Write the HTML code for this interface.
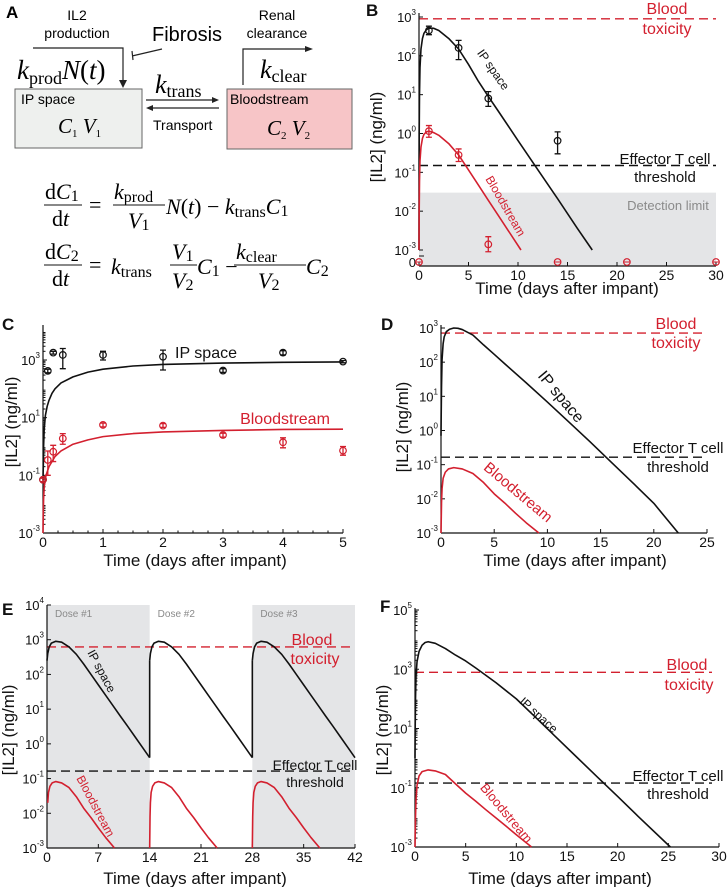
<!DOCTYPE html>
<html><head><meta charset="utf-8"><style>
body{margin:0;background:#fff;}
svg{display:block;font-family:"Liberation Sans",sans-serif;}
.serif{font-family:"Liberation Serif",serif;}
</style></head><body>
<svg id="fig" width="727" height="887" viewBox="0 0 727 887" xmlns="http://www.w3.org/2000/svg">
<!-- Panel A -->
<g>
<text x="6" y="18" font-size="17" font-weight="bold">A</text>
<text x="77" y="20" font-size="14" text-anchor="middle">IL2</text>
<text x="77" y="38" font-size="14" text-anchor="middle">production</text>
<path d="M33,48 H123 V82" fill="none" stroke="#222" stroke-width="1.2"/>
<path d="M119,80 L123,88 L127,80 Z" fill="#222"/>
<text x="152" y="41" font-size="20">Fibrosis</text>
<path d="M162,49 L132,56 M132,51 L133,60" fill="none" stroke="#222" stroke-width="1.2"/>
<text x="17" y="79" class="serif" font-size="27"><tspan font-style="italic">k</tspan><tspan font-size="18" dy="5">prod</tspan><tspan font-style="italic" dy="-5">N</tspan>(<tspan font-style="italic">t</tspan>)</text>
<rect x="15" y="89" width="127" height="59" fill="#eef0ee" stroke="#666" stroke-width="1"/>
<text x="21" y="104" font-size="14">IP space</text>
<text x="58" y="133" class="serif" font-size="21" font-style="italic">C<tspan font-size="11" dy="4" font-style="normal">1</tspan><tspan dy="-4"> V</tspan><tspan font-size="11" dy="4" font-style="normal">1</tspan></text>
<text x="155" y="93" class="serif" font-size="26"><tspan font-style="italic">k</tspan><tspan font-size="18" dy="4">trans</tspan></text>
<path d="M146,100 H214" stroke="#222" stroke-width="1.2"/>
<path d="M212,97 L219,100 L212,103 Z" fill="#222"/>
<path d="M150,108 H219" stroke="#222" stroke-width="1.2"/>
<path d="M153,105 L146,108 L153,111 Z" fill="#222"/>
<text x="153" y="130" font-size="14">Transport</text>
<rect x="227" y="89" width="125" height="60" fill="#f7c5c7" stroke="#666" stroke-width="1"/>
<text x="230" y="104" font-size="14">Bloodstream</text>
<text x="267" y="135" class="serif" font-size="21" font-style="italic">C<tspan font-size="11" dy="4" font-style="normal">2</tspan><tspan dy="-4"> V</tspan><tspan font-size="11" dy="4" font-style="normal">2</tspan></text>
<text x="277" y="20" font-size="14" text-anchor="middle">Renal</text>
<text x="277" y="38" font-size="14" text-anchor="middle">clearance</text>
<path d="M243,85 V49 H307" fill="none" stroke="#222" stroke-width="1.2"/>
<path d="M305,46 L313,49 L305,52 Z" fill="#222"/>
<text x="260" y="78" class="serif" font-size="26"><tspan font-style="italic">k</tspan><tspan font-size="18" dy="4">clear</tspan></text>
<g class="serif" font-size="22">
<text x="45" y="199">d<tspan font-style="italic">C</tspan><tspan font-size="16" dy="2">1</tspan></text>
<line x1="44" y1="205" x2="82" y2="205" stroke="#111" stroke-width="1"/>
<text x="52" y="226">d<tspan font-style="italic">t</tspan></text>
<text x="89" y="212">=</text>
<text x="114" y="199"><tspan font-style="italic">k</tspan><tspan font-size="16" dy="3">prod</tspan></text>
<line x1="113" y1="205" x2="165" y2="205" stroke="#111" stroke-width="1"/>
<text x="128" y="228"><tspan font-style="italic">V</tspan><tspan font-size="16" dy="2">1</tspan></text>
<text x="166" y="214"><tspan font-style="italic">N</tspan>(<tspan font-style="italic">t</tspan>) − <tspan font-style="italic">k</tspan><tspan font-size="16" dy="3">trans</tspan><tspan font-style="italic" dy="-3">C</tspan><tspan font-size="16" dy="2">1</tspan></text>
</g>
<g class="serif" font-size="22">
<text x="45" y="259">d<tspan font-style="italic">C</tspan><tspan font-size="16" dy="2">2</tspan></text>
<line x1="44" y1="265" x2="82" y2="265" stroke="#111" stroke-width="1"/>
<text x="52" y="286">d<tspan font-style="italic">t</tspan></text>
<text x="89" y="272">=</text>
<text x="111" y="274"><tspan font-style="italic">k</tspan><tspan font-size="16" dy="3">trans</tspan></text>
<text x="172" y="259"><tspan font-style="italic">V</tspan><tspan font-size="16" dy="2">1</tspan></text>
<line x1="170" y1="265" x2="197" y2="265" stroke="#111" stroke-width="1"/>
<text x="172" y="288"><tspan font-style="italic">V</tspan><tspan font-size="16" dy="2">2</tspan></text>
<text x="197" y="274"><tspan font-style="italic">C</tspan><tspan font-size="16" dy="2">1</tspan><tspan dy="-2"> − </tspan></text>
<text x="236" y="259"><tspan font-style="italic">k</tspan><tspan font-size="16" dy="3">clear</tspan></text>
<line x1="234" y1="265" x2="306" y2="265" stroke="#111" stroke-width="1"/>
<text x="258" y="288"><tspan font-style="italic">V</tspan><tspan font-size="16" dy="2">2</tspan></text>
<text x="306" y="274"><tspan font-style="italic">C</tspan><tspan font-size="16" dy="2">2</tspan></text>
</g>
</g>
</svg>
<script>
// ===== Data =====
// Panel B
const bIPT=[0,0.02,0.05,0.1,0.2,0.35,0.5,0.75,1,1.5,2,3,4,5,6,7,8,10,12,14,16,17.5];
const bIPV=[0.001,1,10,50,150,280,380,470,520,510,450,280,150,60,22,9,3.8,0.66,0.117,0.021,0.0036,0.001];
const bBlT=[0,0.02,0.05,0.1,0.2,0.35,0.5,0.75,1,1.5,2,3,4,5,6,7,8,9,10.3];
const bBlV=[0.001,0.01,0.06,0.2,0.45,0.75,0.95,1.1,1.15,1.05,0.9,0.55,0.28,0.115,0.047,0.019,0.0078,0.0032,0.001];
const bDatIPT=[1,4,7,14];
const bDatIPV=[450,160,8,0.65];
const bDatIPLo=[350,80,5,0.3];
const bDatIPHi=[580,250,12,1.1];
const bDatBlT=[1,4,7];
const bDatBlV=[1.15,0.28,0.0014];
const bDatBlLo=[0.8,0.19,0.0009];
const bDatBlHi=[1.6,0.4,0.0022];
const bZeroT=[0,14,21,30];
const bThresh=[900,0.15,0.03]; // toxicity, effector, detection limit
const bXTicks=[0,5,10,15,20,25,30];
const bYExps=[3,2,1,0,-1,-2,-3];
// Panel C
const cIPT=[0,0.005,0.01,0.02,0.04,0.07,0.1,0.15,0.2,0.3,0.5,0.75,1,1.5,2,3,4,5];
const cIPV=[0.07,0.2,1,4,12,25,40,70,100,160,260,380,480,620,700,780,830,860];
const cBlT=[0,0.005,0.01,0.02,0.05,0.1,0.2,0.3,0.5,0.75,1,1.5,2,3,4,5];
const cBlV=[0.001,0.005,0.015,0.04,0.1,0.2,0.45,0.7,1.2,1.7,2.2,2.8,3.2,3.6,3.9,4.0];
const cDatIPT=[0,0.08,0.17,0.33,1,2,3,4,5];
const cDatIPV=[0.07,420,1800,1500,1500,1300,430,1800,880];
const cDatIPLo=[0.06,360,1600,500,1000,450,370,1500,800];
const cDatIPHi=[0.08,480,2000,2500,2000,2200,500,2100,960];
const cDatBlT=[0,0.08,0.17,0.33,1,2,3,4,5];
const cDatBlV=[0.07,0.34,0.66,1.9,5.6,5.3,2.5,1.4,0.72];
const cDatBlLo=[0.06,0.1,0.3,1.2,4.8,4.6,2.1,0.9,0.5];
const cDatBlHi=[0.08,0.7,1.1,2.8,6.5,6.2,2.9,2,1.0];
const cXTicks=[0,1,2,3,4,5];
const cYExps=[3,1,-1,-3];
// Panel D
const dIPT=[0,0.02,0.05,0.1,0.2,0.3,0.5,0.8,1.2,1.6,2,3,4,5,6,8,10,12,14,16,18,20,22.3];
const dIPV=[0.7,3,20,120,350,550,780,920,1000,980,900,620,320,170,89,25,6.8,1.8,0.47,0.118,0.03,0.0074,0.001];
const dBlT=[0,0.05,0.1,0.2,0.4,0.7,1.2,2,3,4,5,6,7,8,9.2];
const dBlV=[0.001,0.008,0.02,0.04,0.06,0.075,0.082,0.075,0.055,0.03,0.014,0.0075,0.0038,0.002,0.001];
const dThresh=[710,0.166];
const dXTicks=[0,5,10,15,20,25];
const dYExps=[3,2,1,0,-1,-2,-3];
// Panel E
const eDoseStarts=[0,14,28];
const eIPT=[0,0.1,0.3,0.6,1.2,2,3,4,5,6,7,8,9,10,11,12,13,14];
const eIPV=[250,400,620,800,900,850,620,380,200,100,50,25,12.6,6.3,3.2,1.6,0.8,0.4];
const eBlT=[0,0.05,0.1,0.2,0.4,0.7,1.2,2,3,4,5,6,7,8,9.2];
const eBlV=[0.001,0.008,0.02,0.04,0.06,0.075,0.082,0.075,0.055,0.03,0.014,0.0075,0.0038,0.002,0.001];
const eThresh=[620,0.165];
const eXTicks=[0,7,14,21,28,35,42];
const eYExps=[4,3,2,1,0,-1,-2,-3];
const eDoseLabels=["Dose #1","Dose #2","Dose #3"];
// Panel F
const fIPT=[0,0.02,0.05,0.1,0.2,0.4,0.7,1,1.3,2,3,4,5,6,8,10,12,14,16,18,20,22,25.2];
const fIPV=[1,10,100,600,1800,4000,6500,8000,8500,7500,5000,3000,1900,1100,350,100,22,4.8,1.05,0.23,0.051,0.011,0.001];
const fBlT=[0,0.05,0.1,0.2,0.4,0.7,1.3,2,3,4,5,6,7,8,9,10,11.5];
const fBlV=[0.001,0.01,0.04,0.12,0.25,0.35,0.4,0.37,0.28,0.135,0.066,0.035,0.018,0.0095,0.005,0.0026,0.001];
const fThresh=[790,0.144];
const fXTicks=[0,5,10,15,20,25,30];
const fYExps=[5,3,1,-1,-3];

// ===== Drawing =====
const NS="http://www.w3.org/2000/svg";
const fig=document.getElementById('fig');
const RED="#d3202f", BLK="#111";
function mk(tag,parent){const e=document.createElementNS(NS,tag);(parent||fig).appendChild(e);return e;}
function axes(x0,x1,tmax,yT,yB,eT,eB){
  const dec=(yB-yT)/(eT-eB);
  return {x:t=>x0+(x1-x0)*t/tmax, y:v=>yT+(eT-Math.log10(v))*dec, dec:dec};
}
function line(g,ax,ts,vs,color,name,off){
  off=off||0;
  const p=mk('path',g);
  
  
  let d='';
  for(let i=0;i<ts.length;i++){d+=(i?'L':'M')+ax.x(ts[i]+off).toFixed(2)+','+ax.y(vs[i]).toFixed(2);}
  p.setAttribute('d',d);p.setAttribute('fill','none');p.setAttribute('stroke',color);p.setAttribute('stroke-width','1.6');
  p.setAttribute('stroke-linejoin','round');
  return p;
}
function hdash(g,ax,x0,x1,v,color,name){
  const l=mk('line',g);
  
  
  const y=ax.y(v);
  l.setAttribute('x1',x0);l.setAttribute('x2',x1);l.setAttribute('y1',y);l.setAttribute('y2',y);
  l.setAttribute('stroke',color);l.setAttribute('stroke-width','1.4');l.setAttribute('stroke-dasharray','9,5');
}
function txt(g,x,y,s,size,color,anchor,rot,name){
  const t=mk('text',g);
  
  
  t.setAttribute('x',x);t.setAttribute('y',y);t.setAttribute('font-size',size);t.setAttribute('fill',color||BLK);
  t.setAttribute('text-anchor',anchor||'start');
  if(rot)t.setAttribute('transform','rotate('+rot+' '+x+' '+y+')');
  t.textContent=s;return t;
}
function points(g,ax,ts,vs,lo,hi,color,name){
  for(let i=0;i<ts.length;i++){
    const x=ax.x(ts[i]);
    if(lo){
      const e=mk('path',g);
      
      
      const y1=ax.y(lo[i]),y2=ax.y(hi[i]);
      e.setAttribute('d','M'+x+','+y1+'V'+y2+'M'+(x-3)+','+y1+'H'+(x+3)+'M'+(x-3)+','+y2+'H'+(x+3));
      e.setAttribute('stroke',color);e.setAttribute('stroke-width','1.3');e.setAttribute('fill','none');
    }
    const c=mk('circle',g);
    
    
    c.setAttribute('cx',x);c.setAttribute('cy',ax.y(vs[i]));c.setAttribute('r','3.3');
    c.setAttribute('fill','none');c.setAttribute('stroke',color);c.setAttribute('stroke-width','1.2');
  }
}
function frame(g,ax,x0,x1,yTop,yAxisBot,xAxisY,xticks,exps,minor,xminor){
  const a=mk('path',g);
  
  
  a.setAttribute('d','M'+x0+','+yTop+'V'+yAxisBot+'M'+x0+','+xAxisY+'H'+x1);
  a.setAttribute('stroke',BLK);a.setAttribute('stroke-width','1.2');a.setAttribute('fill','none');
  xticks.forEach(t=>{
    const x=ax.x(t);
    const k=mk('line',g);
    
    
    k.setAttribute('x1',x);k.setAttribute('x2',x);k.setAttribute('y1',xAxisY);k.setAttribute('y2',xAxisY-4);k.setAttribute('stroke',BLK);
    txt(g,x,xAxisY+14,String(t),14,BLK,'middle',0,'x-tick-label');
  });
  if(xminor){xminor.forEach(t=>{const x=ax.x(t);const k=mk('line',g);
    
    
    k.setAttribute('x1',x);k.setAttribute('x2',x);k.setAttribute('y1',xAxisY);k.setAttribute('y2',xAxisY-2.5);k.setAttribute('stroke',BLK);});}
  exps.forEach(e=>{
    const y=ax.y(Math.pow(10,e));
    const k=mk('line',g);
    
    
    k.setAttribute('x1',x0);k.setAttribute('x2',x0+4);k.setAttribute('y1',y);k.setAttribute('y2',y);k.setAttribute('stroke',BLK);
    const t=txt(g,x0-3,y+5,'10',13,BLK,'end',0,'y-tick-label');
    const s=mk('tspan',t);s.setAttribute('font-size','8');s.setAttribute('dy','-7');s.textContent=String(e);
  });
  if(minor){
    const eMax=Math.log10(1)+exps[0]+ (minor>0?minor:0);
    for(let e=exps[exps.length-1];e<eMax;e++){for(let m=2;m<10;m++){
      const v=m*Math.pow(10,e);const y=ax.y(v);if(y<yTop)continue;
      const k=mk('line',g);
      
      
      k.setAttribute('x1',x0);k.setAttribute('x2',x0+2.5);k.setAttribute('y1',y);k.setAttribute('y2',y);k.setAttribute('stroke',BLK);}}
  }
}
function titles(g,yx,yy,xx,xy,letter,lx,ly){
  txt(g,yx,yy,'[IL2] (ng/ml)',17,BLK,'middle',-90,'y-axis-title');
  txt(g,xx,xy,'Time (days after impant)',17,BLK,'middle',0,'x-axis-title');
  const L=txt(g,lx,ly,letter,17,BLK,'start',0,'panel-label-'+letter.toLowerCase());L.setAttribute('font-weight','bold');
}
function gpanel(name){const g=mk('g');return g;}

// Panel B
(function(){
  const g=gpanel('panel-b-chart');
  const ax=axes(419,716,30,17,250,3,-3);
  const band=mk('rect',g);
  
  
  const yd=ax.y(bThresh[2]);
  band.setAttribute('x',419);band.setAttribute('y',yd);band.setAttribute('width',297);band.setAttribute('height',266-yd);band.setAttribute('fill','#e4e5e7');
  txt(g,668,210,'Detection limit',13,'#8a8a8a','middle',0,'detection-limit-label');
  hdash(g,ax,419,716,bThresh[0],RED,'blood-toxicity-line');
  hdash(g,ax,419,716,bThresh[1],BLK,'effector-threshold-line');
  frame(g,ax,419,716,13,250,266,bXTicks,bYExps,0);
  const z=mk('path',g);
  
  
  z.setAttribute('d','M419,256H424');z.setAttribute('stroke',BLK);
  txt(g,416,267,'0',13,BLK,'end',0,'y-zero-label');
  line(g,ax,bIPT,bIPV,BLK,'ip-space-curve');
  line(g,ax,bBlT,bBlV,RED,'bloodstream-curve');
  points(g,ax,bDatIPT,bDatIPV,bDatIPLo,bDatIPHi,BLK,'ip-data-point');
  points(g,ax,bDatBlT,bDatBlV,bDatBlLo,bDatBlHi,RED,'blood-data-point');
  bZeroT.forEach(t=>{const c=mk('circle',g);
    
    
    c.setAttribute('cx',ax.x(t));c.setAttribute('cy',262);c.setAttribute('r','3.3');c.setAttribute('fill','none');c.setAttribute('stroke',RED);c.setAttribute('stroke-width','1.2');
    const l=mk('line',g);
    l.setAttribute('x1',ax.x(t)-3);l.setAttribute('x2',ax.x(t)+3);l.setAttribute('y1',262);l.setAttribute('y2',262);l.setAttribute('stroke',RED);});
  txt(g,490,72,'IP space',12,BLK,'middle',55,'ip-space-label');
  txt(g,502,208,'Bloodstream',12,RED,'middle',60,'bloodstream-label');
  txt(g,667,14,'Blood',16,RED,'middle',0,'blood-toxicity-label');
  txt(g,667,34,'toxicity',16,RED,'middle',0,'blood-toxicity-label-2');
  txt(g,665,164,'Effector T cell',15,BLK,'middle',0,'effector-label');
  txt(g,665,182,'threshold',15,BLK,'middle',0,'effector-label-2');
  titles(g,382,137,567,294,'B',366,16);
})();
// Panel C
(function(){
  const g=gpanel('panel-c-chart');
  const ax=axes(43,343,5,360,533,3,-3);
  const xm=[];for(let i=0;i<=20;i++){xm.push(i*0.25);}
  frame(g,ax,43,343,325,533,533,cXTicks,cYExps,1,xm);
  line(g,ax,cIPT,cIPV,BLK,'ip-space-curve');
  line(g,ax,cBlT,cBlV,RED,'bloodstream-curve');
  points(g,ax,cDatIPT,cDatIPV,cDatIPLo,cDatIPHi,BLK,'ip-data-point');
  points(g,ax,cDatBlT,cDatBlV,cDatBlLo,cDatBlHi,RED,'blood-data-point');
  txt(g,206,358,'IP space',16,BLK,'middle',0,'ip-space-label');
  txt(g,285,424,'Bloodstream',16,RED,'middle',0,'bloodstream-label');
  titles(g,17,422,195,566,'C',2,330);
})();
// Panel D
(function(){
  const g=gpanel('panel-d-chart');
  const ax=axes(441,707,25,328,533,3,-3);
  hdash(g,ax,441,707,dThresh[0],RED,'blood-toxicity-line');
  hdash(g,ax,441,707,dThresh[1],BLK,'effector-threshold-line');
  frame(g,ax,441,707,325,533,533,dXTicks,dYExps,0);
  line(g,ax,dIPT,dIPV,BLK,'ip-space-curve');
  line(g,ax,dBlT,dBlV,RED,'bloodstream-curve');
  txt(g,557,400,'IP space',16,BLK,'middle',50,'ip-space-label');
  txt(g,515,496,'Bloodstream',15,RED,'middle',40,'bloodstream-label');
  txt(g,676,329,'Blood',16,RED,'middle',0,'blood-toxicity-label');
  txt(g,676,348,'toxicity',16,RED,'middle',0,'blood-toxicity-label-2');
  txt(g,678,453,'Effector T cell',15,BLK,'middle',0,'effector-label');
  txt(g,678,472,'threshold',15,BLK,'middle',0,'effector-label-2');
  titles(g,408,427,575,566,'D',381,330);
})();
// Panel E
(function(){
  const g=gpanel('panel-e-chart');
  const ax=axes(47,355,42,605,848,4,-3);
  [0,2].forEach(i=>{const r=mk('rect',g);
    
    
    const xa=ax.x(eDoseStarts[i]);const xb=ax.x(eDoseStarts[i]+14);
    r.setAttribute('x',xa);r.setAttribute('y',605);r.setAttribute('width',xb-xa);r.setAttribute('height',243);r.setAttribute('fill','#e4e5e7');});
  eDoseLabels.forEach((s,i)=>txt(g,ax.x(eDoseStarts[i])+8,617,s,10,'#8a8a8a','start',0,'dose-label'));
  hdash(g,ax,47,355,eThresh[0],RED,'blood-toxicity-line');
  hdash(g,ax,47,355,eThresh[1],BLK,'effector-threshold-line');
  frame(g,ax,47,355,605,848,848,eXTicks,eYExps,0);
  eDoseStarts.forEach((s,i)=>{
    line(g,ax,eIPT,eIPV,BLK,'ip-space-curve-dose-'+(i+1),s);
    if(i>0){const c=mk('line',g);
      
      
      c.setAttribute('x1',ax.x(s));c.setAttribute('x2',ax.x(s));c.setAttribute('y1',ax.y(eIPV[eIPV.length-1]));c.setAttribute('y2',ax.y(eIPV[0]));c.setAttribute('stroke',BLK);c.setAttribute('stroke-width','1.6');}
    const bt=i===0?eBlT.slice(2):eBlT, bv=i===0?eBlV.slice(2):eBlV;
    line(g,ax,bt,bv,RED,'bloodstream-curve-dose-'+(i+1),s);
  });
  txt(g,98,673,'IP space',12,BLK,'middle',62,'ip-space-label');
  txt(g,92,808,'Bloodstream',12,RED,'middle',62,'bloodstream-label');
  txt(g,312,645,'Blood',16,RED,'middle',0,'blood-toxicity-label');
  txt(g,315,664,'toxicity',16,RED,'middle',0,'blood-toxicity-label-2');
  txt(g,315,770,'Effector T cell',14,BLK,'middle',0,'effector-label');
  txt(g,315,787,'threshold',14,BLK,'middle',0,'effector-label-2');
  titles(g,14,730,195,884,'E',2,615);
})();
// Panel F
(function(){
  const g=gpanel('panel-f-chart');
  const ax=axes(415,719,30,610,847,5,-3);
  hdash(g,ax,415,712,fThresh[0],RED,'blood-toxicity-line');
  hdash(g,ax,415,712,fThresh[1],BLK,'effector-threshold-line');
  frame(g,ax,415,719,608,847,847,fXTicks,fYExps,1);
  line(g,ax,fIPT,fIPV,BLK,'ip-space-curve');
  line(g,ax,fBlT,fBlV,RED,'bloodstream-curve');
  txt(g,536,718,'IP space',12,BLK,'middle',42,'ip-space-label');
  txt(g,503,816,'Bloodstream',13,RED,'middle',50,'bloodstream-label');
  txt(g,687,670,'Blood',16,RED,'middle',0,'blood-toxicity-label');
  txt(g,689,690,'toxicity',16,RED,'middle',0,'blood-toxicity-label-2');
  txt(g,678,781,'Effector T cell',15,BLK,'middle',0,'effector-label');
  txt(g,678,799,'threshold',15,BLK,'middle',0,'effector-label-2');
  titles(g,388,730,560,884,'F',380,612);
})();
</script>
</body></html>
